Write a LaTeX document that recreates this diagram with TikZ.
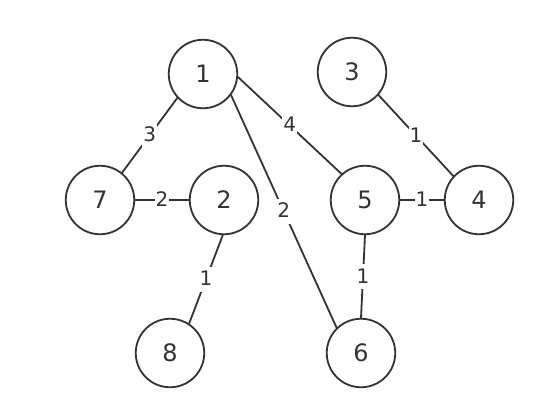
\documentclass[tikz,border=0pt]{standalone}
\usepackage{fontspec}
\setmainfont{DejaVu Sans}
\definecolor{ink}{HTML}{333333}
\begin{document}
\begin{tikzpicture}[x=1pt,y=-1pt,line join=round,line cap=round,color=ink,line width=1.8pt,
	vertex/.style={circle,draw,minimum size=68.5pt,inner sep=0pt,font=\fontsize{24}{28}\selectfont},
	weight/.style={midway,fill=white,inner xsep=1pt,inner ysep=1pt,text height=18pt,text depth=5pt,font=\fontsize{20}{24}\selectfont}]
			\useasboundingbox (0,0) rectangle (541,415);
			\node[vertex] (n1) at (203,74) {1};
			\node[vertex] (n3) at (352,72) {3};
			\node[vertex] (n7) at (100,200) {7};
			\node[vertex] (n2) at (224,200) {2};
			\node[vertex] (n5) at (365,200) {5};
			\node[vertex] (n4) at (479,200) {4};
			\node[vertex] (n8) at (170,353) {8};
			\node[vertex] (n6) at (361,353) {6};
			\draw (n1.223)--(n7.51) node[weight]{3};
			\draw (n1.-5)--(n5.132) node[weight]{4};
			\draw (n1.-37)--(n6.134) node[weight]{2};
			\draw (n3.-41)--(n4.137) node[weight]{1};
			\draw (n7.east)--(n2.west) node[weight]{2};
			\draw (n5.east)--(n4.west) node[weight]{1};
			\draw (n2.268)--(n8.57) node[weight]{1};
			\draw (n5.south)--(n6.north) node[weight]{1};
	\end{tikzpicture}
\end{document}
